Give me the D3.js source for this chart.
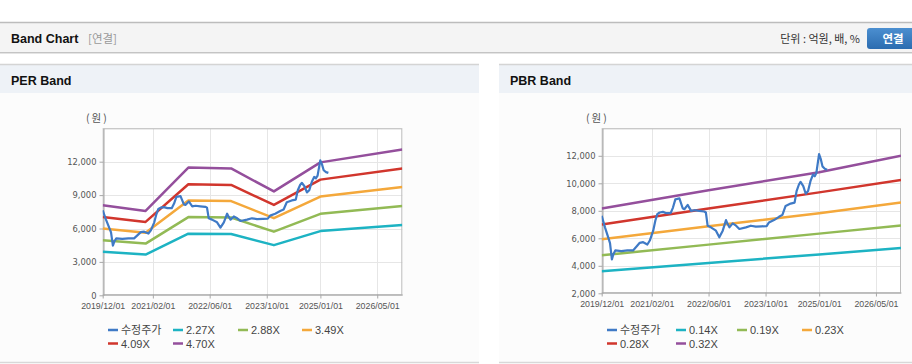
<!DOCTYPE html>
<html><head><meta charset="utf-8">
<script src="https://cdn.jsdelivr.net/npm/d3@7"></script>
<style>
html,body{margin:0;padding:0;background:#fff;}
svg{display:block;}
</style></head>
<body>
<svg id="c" width="912" height="364"></svg>
<script>
// ---------- DATA ----------
const xTickLabels = ["2019/12/01","2021/02/01","2022/06/01","2023/10/01","2025/01/01","2026/05/01"];

const priceDates = ["2019-12-01","2019-12-29","2020-01-27","2020-02-10","2020-02-26","2020-03-09","2020-03-26","2020-05-16","2020-07-07","2020-08-25","2020-10-01","2020-10-21","2020-11-19","2020-12-25","2021-01-15","2021-02-13","2021-03-03","2021-03-20","2021-04-09","2021-05-07","2021-06-05","2021-07-12","2021-08-01","2021-08-21","2021-09-25","2021-10-23","2021-11-06","2021-12-05","2022-01-03","2022-02-01","2022-03-13","2022-04-25","2022-05-09","2022-05-24","2022-06-21","2022-08-03","2022-09-01","2022-09-30","2022-10-28","2022-11-11","2022-11-26","2022-12-24","2023-01-22","2023-02-19","2023-04-16","2023-05-28","2023-07-10","2023-08-28","2023-10-10","2023-10-30","2023-12-12","2024-01-24","2024-02-22","2024-03-20","2024-05-02","2024-06-05","2024-06-22","2024-07-12","2024-07-26","2024-08-18","2024-09-08","2024-09-28","2024-10-20","2024-11-09","2024-11-24","2024-12-08","2024-12-31","2025-01-14","2025-01-29","2025-02-18","2025-03-10"];
const priceValues = [7635,6796,6029,5645,4470,4830,5118,5070,5118,5118,5477,5669,5717,5549,5837,6556,7276,7755,7875,7923,7827,7827,8235,8834,8906,8187,8115,8427,7995,8043,7995,7947,7875,6916,6796,6556,6076,6556,7324,7036,6796,7084,6916,6676,6796,6916,6844,6868,6892,7156,7324,7564,7707,8355,8523,8595,9434,9913,10105,9794,9242,9434,10201,10633,10513,10753,12120,11784,11232,11064,10993];

const perBandDates = ["2019-12-01","2020-12-01","2021-12-01","2022-12-01","2023-12-01","2025-01-01","2026-12-01"];
const perBand227 = [3904,3659,5539,5505,4506,5766,6324];
const perBand288 = [4954,4643,7027,6984,5717,7315,8024];
const perBand349 = [6003,5626,8516,8463,6928,8865,9723];
const perBand409 = [7035,6593,9980,9918,8119,10389,11395];
const perBand470 = [8084,7576,11468,11398,9330,11938,13094];
const perLabels = ["수정주가","2.27X","2.88X","3.49X","4.09X","4.70X"];
const perYTicks = [0,3000,6000,9000,12000,15000];

const pbrBandDates = ["2019-12-01","2022-06-01","2025-01-01","2026-12-01"];
const pbrBand014 = [3610,4210,4830,5290];
const pbrBand019 = [4760,5540,6340,6940];
const pbrBand023 = [5930,6880,7830,8600];
const pbrBand028 = [7010,8170,9340,10250];
const pbrBand032 = [8160,9500,10800,12000];
const pbrLabels = ["수정주가","0.14X","0.19X","0.23X","0.28X","0.32X"];
const pbrYTicks = [2000,4000,6000,8000,10000,12000,14000];

const colors = ["#3f7ac6","#1db3c3","#92ba55","#f4a83b","#d1362d","#944f9c"];

// ---------- DRAW ----------
const svg = d3.select("#c");
const parse = d3.utcParse("%Y-%m-%d");
const tickDates = xTickLabels.map(s => d3.utcParse("%Y/%m/%d")(s));
const FONT = "'Liberation Sans', Arial, sans-serif";
const KFONT = "'Noto Sans CJK KR', 'Liberation Sans', sans-serif";

// top header bar
svg.append("rect").attr("x",0).attr("y",22).attr("width",912).attr("height",31).attr("fill","#f4f4f4");
svg.append("line").attr("x1",0).attr("x2",912).attr("y1",22.5).attr("y2",22.5).attr("stroke","#bcbcbc").attr("stroke-width",1.5);
svg.append("line").attr("x1",0).attr("x2",912).attr("y1",52.5).attr("y2",52.5).attr("stroke","#c4c4c4");
svg.append("line").attr("x1",0).attr("x2",912).attr("y1",53.5).attr("y2",53.5).attr("stroke","#e4e4e4");
svg.append("text").attr("x",11).attr("y",43).attr("font-family",FONT).attr("font-weight","bold").attr("font-size",12.5).attr("fill","#111").text("Band Chart");
svg.append("text").attr("x",88).attr("y",43).attr("font-family",KFONT).attr("font-size",11.5).attr("fill","#999").text("[연결]");
svg.append("text").attr("x",860).attr("y",43).attr("text-anchor","end").attr("font-family",KFONT).attr("font-size",11).attr("fill","#333").text("단위 : 억원, 배, %");
const grad = svg.append("defs").append("linearGradient").attr("id","btn").attr("x1",0).attr("x2",0).attr("y1",0).attr("y2",1);
grad.append("stop").attr("offset","0").attr("stop-color","#4b8fd0");
grad.append("stop").attr("offset","1").attr("stop-color","#2c6cb0");
svg.append("rect").attr("x",867).attr("y",28).attr("width",54).attr("height",21).attr("rx",3).attr("fill","url(#btn)");
svg.append("text").attr("x",893).attr("y",43).attr("text-anchor","middle").attr("font-family",KFONT).attr("font-weight","bold").attr("font-size",11.5).attr("fill","#fff").text("연결");

function panel(cfg){
  const g = svg.append("g");
  // panel body
  g.append("rect").attr("x",cfg.x0).attr("y",64).attr("width",cfg.x1-cfg.x0).attr("height",298).attr("fill","#fcfcfc");
  g.append("rect").attr("x",cfg.x0).attr("y",64).attr("width",cfg.x1-cfg.x0).attr("height",29).attr("fill","#eef2f7");
  g.append("line").attr("x1",cfg.x0).attr("x2",cfg.x1).attr("y1",64.5).attr("y2",64.5).attr("stroke","#d4d4d4").attr("stroke-width",1.5);
  g.append("line").attr("x1",cfg.x0).attr("x2",cfg.x1).attr("y1",362.5).attr("y2",362.5).attr("stroke","#d8d8d8").attr("stroke-width",1.5);
  g.append("text").attr("x",cfg.x0+11).attr("y",84.5).attr("font-family",FONT).attr("font-weight","bold").attr("font-size",12.5).attr("fill","#111").text(cfg.title);

  const p = cfg.plot;
  const x = d3.scaleUtc().domain([parse("2019-12-01"), parse("2026-12-01")]).range([p.l,p.r]);
  const y = d3.scaleLinear().domain(cfg.yDomain).range([p.b,p.t]);

  g.append("rect").attr("x",p.l).attr("y",p.t).attr("width",p.r-p.l).attr("height",p.b-p.t).attr("fill","#fff");
  // grid
  g.append("g").selectAll("line").data(cfg.yTicks).join("line")
    .attr("x1",p.l).attr("x2",p.r).attr("y1",d=>Math.round(y(d))+0.5).attr("y2",d=>Math.round(y(d))+0.5)
    .attr("stroke","#e6e6e6");
  g.append("g").selectAll("line").data(tickDates).join("line")
    .attr("y1",p.t).attr("y2",p.b).attr("x1",d=>Math.round(x(d))+0.5).attr("x2",d=>Math.round(x(d))+0.5)
    .attr("stroke","#e6e6e6");
  // frame
  g.append("rect").attr("x",p.l+0.5).attr("y",p.t+0.5).attr("width",p.r-p.l-1).attr("height",p.b-p.t-1)
    .attr("fill","none").attr("stroke","#bdbdbd");

  // axes
  const xAxis = d3.axisBottom(x).tickValues(tickDates).tickFormat((d,i)=>xTickLabels[i]).tickSizeInner(4).tickSizeOuter(0).tickPadding(4);
  const gx = g.append("g").attr("transform",`translate(0,${Math.round(p.b)-0.5})`).call(xAxis);
  gx.select(".domain").attr("stroke","#a8a8a8");
  gx.selectAll(".tick line").attr("stroke","#a8a8a8");
  gx.selectAll("text").attr("font-family",FONT).attr("font-size",8.8).attr("fill","#555");

  const yAxis = d3.axisLeft(y).tickValues(cfg.yTicks.slice(0,-1)).tickFormat(d3.format(",")).tickSizeInner(4).tickSizeOuter(0).tickPadding(3);
  const gy = g.append("g").attr("transform",`translate(${Math.round(p.l)+0.5},0)`).call(yAxis);
  gy.select(".domain").attr("stroke","#a8a8a8");
  gy.selectAll(".tick line").attr("stroke","#a8a8a8");
  gy.selectAll("text").attr("font-family","'DejaVu Sans', sans-serif").attr("font-size",8.4).attr("fill","#555");

  g.append("text").attr("x",cfg.unitX).attr("y",122).attr("font-family",KFONT).attr("font-size",10.5).attr("letter-spacing",2).attr("fill","#555").text("(원)");

  // lines
  const clipId = "clip"+cfg.title.replace(/\s/g,"");
  svg.append("clipPath").attr("id",clipId).append("rect").attr("x",p.l).attr("y",p.t).attr("width",p.r-p.l).attr("height",p.b-p.t);
  const lg = g.append("g").attr("clip-path",`url(#${clipId})`);
  const line = d3.line().x(d=>x(d[0])).y(d=>y(d[1]));
  cfg.bands.forEach((vals,i)=>{
    const pts = vals.map((v,j)=>[parse(cfg.bandDates[j]),v]);
    lg.append("path").attr("d",line(pts)).attr("fill","none").attr("stroke",colors[i+1]).attr("stroke-width",2.5).attr("stroke-linejoin","round");
  });
  const ppts = priceValues.map((v,j)=>[parse(priceDates[j]),v]);
  lg.append("path").attr("d",line(ppts)).attr("fill","none").attr("stroke",colors[0]).attr("stroke-width",2.2).attr("stroke-linejoin","round");

  // legend
  cfg.labels.forEach((lab,i)=>{
    const lx = cfg.legX[i], ly = i<4 ? 330 : 343.5;
    g.append("line").attr("x1",lx).attr("x2",lx+10).attr("y1",ly).attr("y2",ly).attr("stroke",colors[i]).attr("stroke-width",2.5);
    g.append("text").attr("x",lx+13).attr("y",ly+4).attr("font-family", i===0?KFONT:FONT).attr("font-size",11).attr("fill","#444").text(lab);
  });
}

panel({x0:0,x1:479,title:"PER Band",plot:{l:102.7,r:402.3,t:128.3,b:295.3},yDomain:[0,15000],yTicks:perYTicks,
  bandDates:perBandDates,bands:[perBand227,perBand288,perBand349,perBand409,perBand470],labels:perLabels,
  legX:[108,173,238,302,108,173],unitX:86});
panel({x0:499,x1:912,title:"PBR Band",plot:{l:601.7,r:901,t:128.3,b:293.3},yDomain:[2000,14000],yTicks:pbrYTicks,
  bandDates:pbrBandDates,bands:[pbrBand014,pbrBand019,pbrBand023,pbrBand028,pbrBand032],labels:pbrLabels,
  legX:[607,676,737,802,607,676],unitX:586});
</script>
</body></html>
